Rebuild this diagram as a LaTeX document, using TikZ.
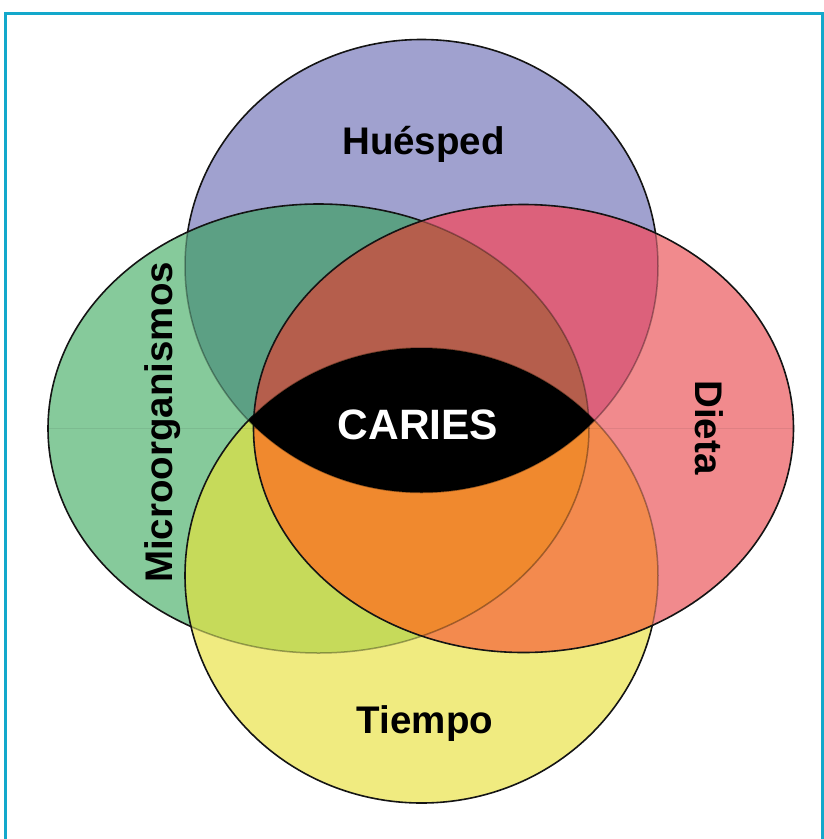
\documentclass[tikz,border=0pt]{standalone}
\usepackage{fontspec}
\setmainfont{Liberation Sans}
\definecolor{frameC}{HTML}{13A8CB}
\definecolor{cB}{HTML}{A0A1CF}
\definecolor{cG}{HTML}{86CA9B}
\definecolor{cY}{HTML}{F0EB80}
\definecolor{cR}{HTML}{F18A8D}
\definecolor{cBG}{HTML}{5CA084}
\definecolor{cGY}{HTML}{C6DA5A}
\definecolor{cBR}{HTML}{DC617B}
\definecolor{cRY}{HTML}{F38A4E}
\definecolor{cRG}{HTML}{D27A45}
\definecolor{cBRG}{HTML}{B55E4C}
\definecolor{cRGY}{HTML}{F0892E}
\begin{document}
\begin{tikzpicture}[x=1pt,y=-1pt,
  ellB/.style={insert path={(421.5,266) ellipse [x radius=236.5, y radius=226.5]}},
  ellG/.style={insert path={(318.5,428.5) ellipse [x radius=270.5, y radius=224.5]}},
  ellY/.style={insert path={(421.5,575.5) ellipse [x radius=236.5, y radius=227.5]}},
  ellR/.style={insert path={(523.5,428.5) ellipse [x radius=270, y radius=224]}},
  rim/.style={draw=black!92, line width=1.6pt},
  dimrim/.style={draw=black, draw opacity=0.33, line width=1.5pt},
  midline/.style={draw=black, draw opacity=0.07, line width=1.2pt},
  lbl/.style={font=\bfseries\fontsize{38.5}{40}\selectfont, inner sep=0pt, text=black},
]
\useasboundingbox (0,0) rectangle (824,839);

% --- first set: Huésped
\fill[cB, ellB];
\draw[rim, ellB];
\begin{scope}
  \path[clip, ellB];
  \draw[midline] (180,266) -- (660,266);
\end{scope}

% --- second set: Microorganismos
\fill[cG, ellG];
\begin{scope}
  \path[clip, ellG];
  \fill[cBG, ellB];
  \draw[dimrim, ellB];
\end{scope}
\draw[rim, ellG];

% --- third set: Tiempo
\fill[cY, ellY];
\begin{scope}
  \path[clip, ellY];
  \fill[cGY, ellG];
  \draw[dimrim, ellB];
  \draw[dimrim, ellG];
\end{scope}
\draw[rim, ellY];

% --- fourth set: Dieta
\fill[cR, ellR];
\begin{scope}
  \path[clip, ellR];
  \fill[cRG, ellG];
  \fill[cBR, ellB];
  \fill[cRY, ellY];
  \begin{scope}
    \path[clip, ellG];
    \fill[cBRG, ellB];
    \fill[cRGY, ellY];
  \end{scope}
  \draw[dimrim, ellB];
  \draw[dimrim, ellG];
  \draw[dimrim, ellY];
\end{scope}
\draw[rim, ellR];

% faint horizontal axis through the side sets
\begin{scope}
  \path[clip, ellG];
  \draw[midline] (40,428.5) -- (600,428.5);
\end{scope}
\begin{scope}
  \path[clip, ellR];
  \draw[midline] (250,428.5) -- (800,428.5);
\end{scope}

% --- common core
\begin{scope}
  \path[clip, ellB];
  \fill[black, ellY];
\end{scope}

% --- labels
\node[lbl, anchor=base] (hue) at (423.5,154) {Huésped};
\node[lbl, anchor=base, rotate=90] (mic) at (172,422.5) {Microorganismos};
\node[lbl, anchor=base, rotate=-90] (die) at (695,427.5) {Dieta};
\node[lbl, anchor=base] (tie) at (425,733) {Tiempo};
\node[lbl, anchor=base, text=white, font=\bfseries\fontsize{42.5}{44}\selectfont] (car) at (418,439) {CARIES};

% --- frame
\draw[frameC, line width=3pt] (5.5,13.5) rectangle (822.5,840.5);
\end{tikzpicture}
\end{document}
